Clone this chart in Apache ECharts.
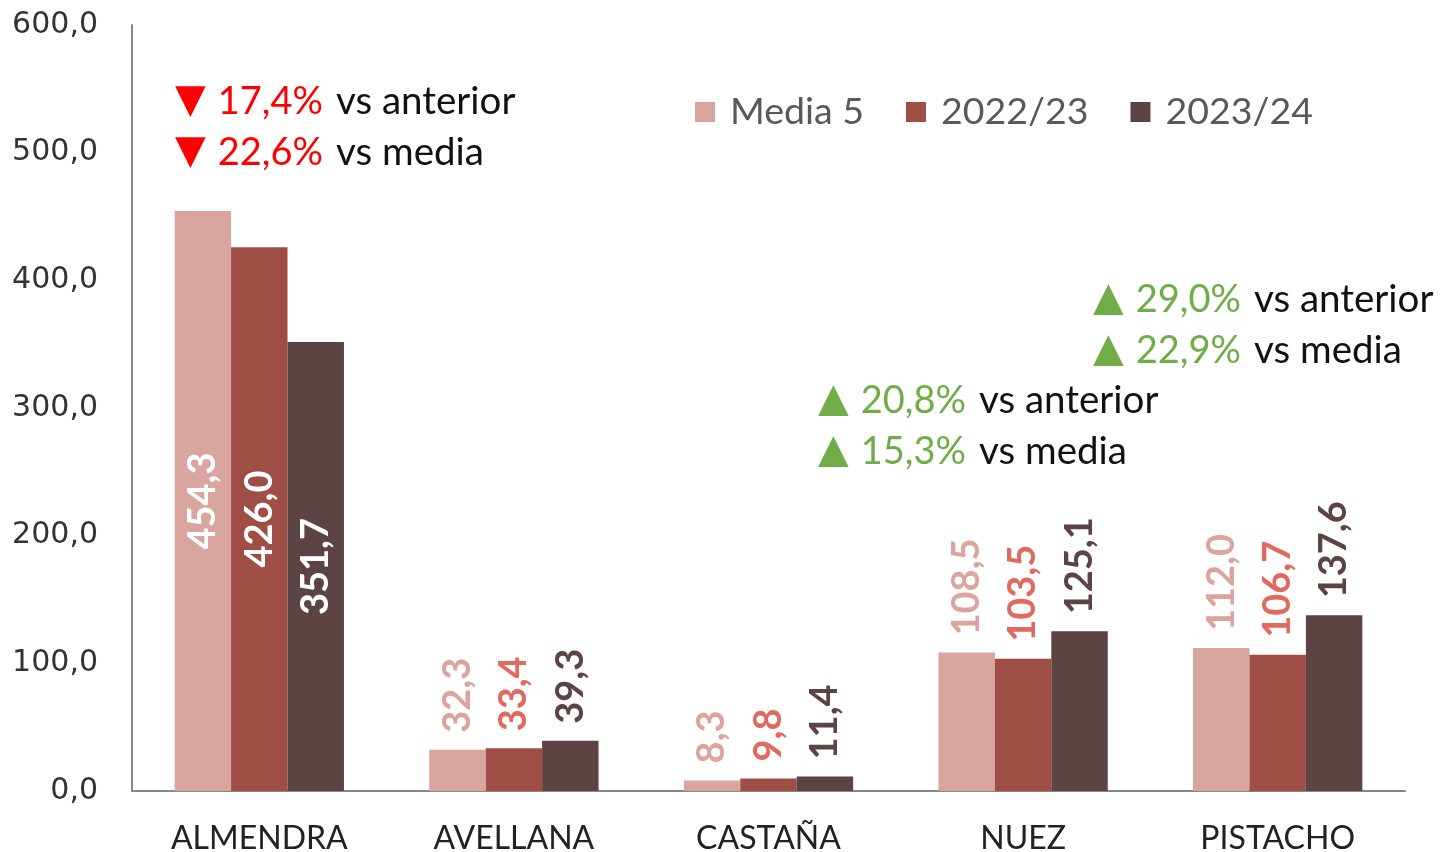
<!DOCTYPE html>
<html>
<head>
<meta charset="utf-8">
<script src="https://cdn.jsdelivr.net/npm/echarts@6/dist/echarts.min.js"></script>
<style>
  html, body { margin: 0; padding: 0; background: #fff; }
  #chart { width: 1444px; height: 852px; }
</style>
</head>
<body>
<div id="chart"></div>
<script>
// datos
var categorias = ['ALMENDRA', 'AVELLANA', 'CASTAÑA', 'NUEZ', 'PISTACHO'];
var media5 = [454.3, 32.3, 8.3, 108.5, 112.0];
var campana2223 = [426.0, 33.4, 9.8, 103.5, 106.7];
var campana2324 = [351.7, 39.3, 11.4, 125.1, 137.6];
var nombresSeries = ['Media 5', '2022/23', '2023/24'];
var ticksY = [0, 100, 200, 300, 400, 500, 600];

// variaciones (texto de las notas)
var notaAlmendra = [['▼', '17,4%', 'vs anterior'], ['▼', '22,6%', 'vs media']];
var notaPistacho = [['▲', '29,0%', 'vs anterior'], ['▲', '22,9%', 'vs media']];
var notaNuez = [['▲', '20,8%', 'vs anterior'], ['▲', '15,3%', 'vs media']];

var coloresBarra = ['#D9A59F', '#9E4E45', '#5B4443'];
var coloresEtiqueta = ['#DCA49D', '#E06A5D', '#5B4443'];

var fmt = function (v) { return v.toFixed(1).replace('.', ','); };

function serie(nombre, valores, i) {
    return {
        name: nombre,
        type: 'bar',
        barGap: '0%',
        barCategoryGap: '33.5%',
        itemStyle: { color: coloresBarra[i] },
        label: {
            show: true,
            position: 'top',
            distance: 17,
            rotate: 90,
            align: 'left',
            verticalAlign: 'middle',
            color: coloresEtiqueta[i],
            fontFamily: 'Lato',
            fontWeight: 'bold',
            fontSize: 38,
            formatter: function (p) { return fmt(p.value); }
        },
        data: valores.map(function (v, k) {
            if (k === 0) {
                // almendra: etiqueta dentro de la barra
                return { value: v, label: { position: 'inside', align: 'center', color: '#fff' } };
            }
            return v;
        })
    };
}

function nota(lineas, x, y, color) {
    return lineas.map(function (l, k) {
        return {
            type: 'text',
            x: x,
            y: y + k * 51,
            style: {
                text: '{tri|' + l[0] + '}{pct|' + l[1] + '}{txt|' + l[2] + '}',
                verticalAlign: 'middle',
                rich: {
                    tri: { fill: color, fontSize: 40, fontFamily: 'DejaVu Sans', padding: [0, 12, 0, 0] },
                    pct: { fill: color, fontSize: 38, fontFamily: 'Lato', padding: [0, 13, 0, 0] },
                    txt: { fill: '#111', fontSize: 38.5, fontFamily: 'Lato' }
                }
            }
        };
    });
}

var myChart = echarts.init(document.getElementById('chart'));

var option = {
    animation: false,
    grid: { left: 132, right: 39, top: 25, bottom: 61, outerBoundsMode: 'none' },
    legend: {
        data: nombresSeries,
        left: 690,
        top: 88,
        itemWidth: 20,
        itemHeight: 20,
        itemGap: 42,
        icon: 'rect',
        textStyle: { color: '#595959', fontSize: 37.5, fontFamily: 'Lato', padding: [0, 0, 0, 10] }
    },
    xAxis: {
        type: 'category',
        data: categorias,
        axisLine: { lineStyle: { color: '#888', width: 2 } },
        axisTick: { show: false },
        axisLabel: { color: '#222', fontSize: 32, fontFamily: 'Lato', margin: 32 }
    },
    yAxis: {
        type: 'value',
        min: ticksY[0],
        max: ticksY[ticksY.length - 1],
        interval: 100,
        axisLine: { show: true, lineStyle: { color: '#888', width: 2 } },
        axisTick: { show: false },
        splitLine: { show: false },
        axisLabel: {
            color: '#333',
            fontSize: 30,
            fontFamily: 'DejaVu Sans',
            margin: 34,
            formatter: function (v) { return fmt(v); }
        }
    },
    graphic: [].concat(
        nota(notaAlmendra, 175, 102, '#FF0000'),
        nota(notaPistacho, 1093, 300, '#70AD47'),
        nota(notaNuez, 818, 401, '#70AD47')
    ),
    series: [
        serie(nombresSeries[0], media5, 0),
        serie(nombresSeries[1], campana2223, 1),
        serie(nombresSeries[2], campana2324, 2)
    ]
};

myChart.setOption(option);
</script>
</body>
</html>
